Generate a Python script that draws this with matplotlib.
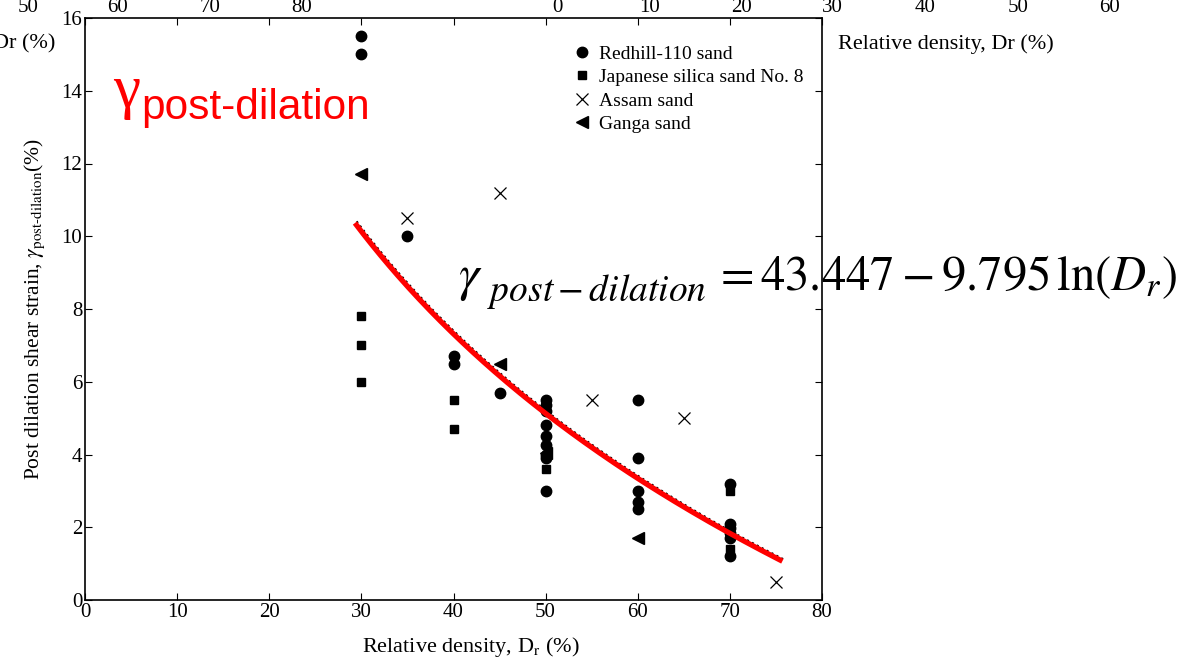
import matplotlib.pyplot as plt
import matplotlib.transforms as mtransforms
import numpy as np

plt.rcParams['font.family'] = ['Liberation Serif', 'DejaVu Serif']
plt.rcParams['mathtext.fontset'] = 'stix'

# data
redhill_x = [30, 30, 35, 40, 40, 45,
             50, 50, 50, 50, 50, 50, 50, 50, 50,
             60, 60, 60, 60, 60,
             70, 70, 70, 70, 70, 70]
redhill_y = [15.5, 15.0, 10.0, 6.7, 6.5, 5.7,
             5.5, 5.35, 5.2, 4.8, 4.5, 4.25, 4.0, 3.9, 3.0,
             5.5, 3.9, 3.0, 2.7, 2.5,
             3.2, 2.1, 1.97, 1.83, 1.7, 1.2]
japan_x = [30, 30, 30, 40, 40, 50, 70, 70]
japan_y = [7.8, 7.0, 6.0, 5.5, 4.7, 3.6, 3.0, 1.4]
assam_x = [35, 45, 55, 65, 75]
assam_y = [10.5, 11.2, 5.5, 5.0, 0.5]
ganga_x = [30, 45, 50, 60]
ganga_y = [11.7, 6.5, 4.05, 1.7]

fit_a = 43.447
fit_b = 9.795
fit_range = (29.3, 75.7)

# stray tick labels of the other overlapping chart at the top
top_labels = ['50', '60', '70', '80', '0', '10', '20', '30', '40', '50', '60']
top_label_px = [28, 118, 210, 302, 557, 650, 742, 832, 925, 1018, 1110]

W, H = 1182, 662
fig = plt.figure(figsize=(W / 100, H / 100), dpi=100)
ax = fig.add_axes([85 / W, (H - 600) / H, (822 - 85) / W, (600 - 18) / H])

ax.plot(redhill_x, redhill_y, 'o', color='black', ms=7.5, label='Redhill-110 sand')
ax.plot(japan_x, japan_y, 's', color='black', ms=6, label='Japanese silica sand No. 8')
ax.plot(assam_x, assam_y, 'x', color='black', ms=9, mew=0.9, label='Assam sand')
ax.plot(ganga_x, ganga_y, '<', color='black', ms=8, label='Ganga sand')

dr = np.linspace(fit_range[0], fit_range[1], 200)
fit = fit_a - fit_b * np.log(dr)
shift = mtransforms.offset_copy(ax.transData, fig=fig, x=1.2, y=1.2, units='points')
ax.plot(dr, fit, color='black', lw=1.5, ls=':', transform=shift)
ax.plot(dr, fit, color='red', lw=3.8, solid_capstyle='butt')

ax.set_xlim(0, 80)
ax.set_ylim(0, 16)
ax.set_xticks(np.arange(0, 81, 10))
ax.set_yticks(np.arange(0, 17, 2))
ax.tick_params(direction='in', top=True, right=True, labelsize=15, length=5, width=0.8, pad=2)
for s in ax.spines.values():
    s.set_linewidth(1.2)

ax.set_xlabel(r'Relative density, D$_\mathrm{r}$ (%)', fontsize=16)
ax.xaxis.set_label_coords(0.524, -0.06)
ax.set_ylabel(r'Post dilation shear strain, $\gamma_{\mathrm{post\text{-}dilation}}$(%)', fontsize=15.5, labelpad=10)

ax.legend(loc='upper left', bbox_to_anchor=((574 - 85) / (822 - 85), (600 - 45) / 582),
          frameon=False, fontsize=14, handlelength=0.8, handletextpad=0.5,
          borderpad=0, labelspacing=0.3, borderaxespad=0)

# red label
fig.text(113 / W, 1 - 107 / H, '\u03b3', color='red', fontsize=44, family='Liberation Serif')
fig.text(141 / W, 1 - 119 / H, 'post-dilation', color='red', fontsize=30.5, family='Liberation Sans')

# fitted equation, built from three pieces
fig.text(458 / W, 1 - 290 / H, r'$\gamma$', fontsize=37, va='baseline')
fig.text(487 / W, 1 - 301 / H, r'$post-dilation$', fontsize=27, va='baseline')
fig.text(713 / W, 1 - 290 / H, r'$=\mathrm{43.447}-\mathrm{9.795\,ln}(D_r)$', fontsize=35, va='baseline')

for t, px in zip(top_labels, top_label_px):
    fig.text(px / W, 1 - 8 / H, t, fontsize=15, ha='center', va='center')
fig.text(55 / W, 1 - 44 / H, 'Dr (%)', fontsize=16, ha='right', va='center')
fig.text(838 / W, 1 - 44 / H, 'Relative density, Dr (%)', fontsize=16, ha='left', va='center')

fig.savefig('out.png', dpi=100)
